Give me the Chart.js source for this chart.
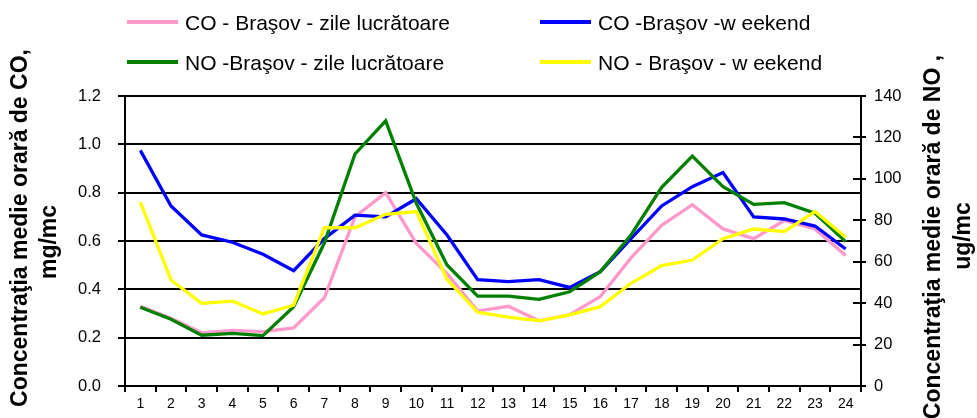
<!DOCTYPE html>
<html><head><meta charset="utf-8">
<script src="https://cdn.jsdelivr.net/npm/chart.js@4/dist/chart.umd.min.js"></script>
<style>html,body{margin:0;padding:0;background:#fff;overflow:hidden}#wrap{position:relative;width:977px;height:418px}</style>
</head><body><div id="wrap"><canvas id="c" width="977" height="418"></canvas></div>
<script>
// ---- data ----
const hours = ['1','2','3','4','5','6','7','8','9','10','11','12','13','14','15','16','17','18','19','20','21','22','23','24'];
const coWorkdays = [0.33,0.28,0.22,0.23,0.225,0.24,0.365,0.70,0.80,0.59,0.465,0.31,0.33,0.27,0.295,0.37,0.53,0.665,0.75,0.65,0.61,0.685,0.65,0.54];
const coWeekend  = [0.975,0.745,0.625,0.595,0.545,0.477,0.61,0.707,0.70,0.775,0.625,0.44,0.432,0.44,0.408,0.473,0.61,0.745,0.825,0.883,0.70,0.691,0.662,0.567];
const noWorkdays = [38,32.2,24.5,25.4,24.3,38.3,69,112,128,88.2,58.4,43.4,43.4,41.8,45.5,55.2,72.9,95.9,111,96.2,87.7,88.5,83.4,69.7];
const noWeekend  = [88.8,51.2,39.9,41,34.8,39,76.4,76.4,82.9,84.2,51.5,35.6,33.2,31.5,34.3,38.3,49.6,58.1,60.8,71.1,75.8,74.5,84.2,71.8];
const seriesLabels = ['CO - Braşov - zile lucrătoare','CO -Braşov -w eekend','NO -Braşov - zile lucrătoare','NO - Braşov - w eekend'];
const leftTitle = ['Concentraţia medie orară de CO,','mg/mc'];
const rightTitle = ['Concentraţia medie orară de NO ,','ug/mc'];

const FONT = '"Liberation Sans", Arial, sans-serif';

const extras = {
  id: 'extras',
  afterDraw(chart) {
    const ctx = chart.ctx;
    ctx.save();
    // inner tick marks on right axis
    const y2 = chart.scales.y2;
    ctx.strokeStyle = '#000'; ctx.lineWidth = 2;
    y2.ticks.forEach((t, i) => {
      const py = Math.round(y2.getPixelForTick(i));
      ctx.beginPath(); ctx.moveTo(y2.left - 8, py); ctx.lineTo(y2.left, py); ctx.stroke();
    });
    // legend
    const cols = [127, 540], rows = [22, 62];
    chart.data.datasets.forEach((ds, i) => {
      const x = cols[i % 2], y = rows[Math.floor(i / 2)];
      ctx.strokeStyle = ds.borderColor; ctx.lineWidth = 4;
      ctx.beginPath(); ctx.moveTo(x, y); ctx.lineTo(x + 51, y); ctx.stroke();
      ctx.fillStyle = '#000'; ctx.font = '21px ' + FONT;
      ctx.textAlign = 'left'; ctx.textBaseline = 'alphabetic';
      ctx.fillText(ds.label, x + 58, y + 7.5);
    });
    // axis titles
    ctx.font = 'bold 23px ' + FONT;
    ctx.textAlign = 'center'; ctx.textBaseline = 'alphabetic';
    const drawRot = (txt, x, y) => { ctx.save(); ctx.translate(x, y); ctx.rotate(-Math.PI / 2); ctx.fillText(txt, 0, 0); ctx.restore(); };
    drawRot(leftTitle[0], 27, 228);
    drawRot(leftTitle[1], 56, 242);
    drawRot(rightTitle[0], 940, 237);
    drawRot(rightTitle[1], 970, 236);
    ctx.restore();
  }
};

const mk = (label, data, color, axis, order) => ({
  label, data, borderColor: color, backgroundColor: color, yAxisID: axis,
  borderWidth: 3.3, pointRadius: 0, tension: 0, fill: false, order
});

new Chart(document.getElementById('c'), {
  type: 'line',
  data: {
    labels: hours,
    datasets: [
      mk(seriesLabels[0], coWorkdays, '#FF99CC', 'y', 4),
      mk(seriesLabels[1], coWeekend, '#0000FF', 'y', 3),
      mk(seriesLabels[2], noWorkdays, '#008000', 'y2', 2),
      mk(seriesLabels[3], noWeekend, '#FFFF00', 'y2', 1)
    ]
  },
  options: {
    responsive: false, animation: false, devicePixelRatio: 1,
    layout: { padding: { top: 96, left: 0, right: 0, bottom: 0 } },
    plugins: { legend: { display: false }, tooltip: { enabled: false } },
    scales: {
      x: {
        offset: true,
        grid: { offset: true, drawOnChartArea: false, color: '#000', lineWidth: 2, tickLength: 6 },
        border: { color: '#000', width: 2 },
        ticks: { color: '#000', font: { family: FONT, size: 14 }, padding: 4, maxRotation: 0, autoSkip: false },
        afterFit: s => { s.height = 32; }
      },
      y: {
        position: 'left', min: 0, max: 1.2,
        grid: { color: '#000', lineWidth: 2, tickLength: 7 },
        border: { color: '#000', width: 2 },
        ticks: { stepSize: 0.2, color: '#000', font: { family: FONT, size: 16.5 }, padding: 17, callback: v => v.toFixed(1) },
        afterFit: s => { s.width = 125; }
      },
      y2: {
        position: 'right', min: 0, max: 140,
        grid: { drawOnChartArea: false, color: '#000', lineWidth: 2, tickLength: 5 },
        border: { color: '#000', width: 2 },
        ticks: { stepSize: 20, color: '#000', font: { family: FONT, size: 16.5 }, padding: 8 },
        afterFit: s => { s.width = 116; }
      }
    }
  },
  plugins: [extras]
});
</script></body></html>
